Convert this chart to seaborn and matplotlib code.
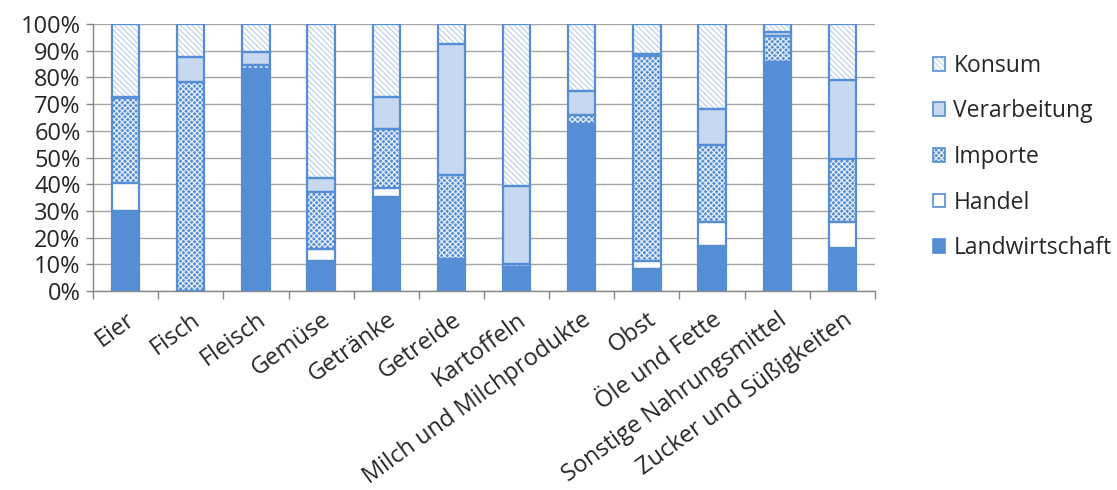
import matplotlib
matplotlib.use("Agg")
import matplotlib.pyplot as plt
from matplotlib.patches import Patch
from matplotlib.legend_handler import HandlerTuple
from matplotlib.ticker import MultipleLocator, FixedLocator, PercentFormatter
import numpy as np
import pandas as pd
import seaborn as sns

# Food categories and the share (%) of each stage in the value chain
categories = ["Eier", "Fisch", "Fleisch", "Gemüse", "Getränke", "Getreide",
              "Kartoffeln", "Milch und Milchprodukte", "Obst", "Öle und Fette",
              "Sonstige Nahrungsmittel", "Zucker und Süßigkeiten"]
landwirtschaft = [30.0, 0.0, 83.0, 11.4, 35.3, 11.9, 8.9, 62.4, 8.2, 16.7, 85.6, 16.0]
handel = [10.3, 0.0, 0.0, 4.2, 3.4, 0.0, 0.0, 0.0, 3.2, 9.3, 0.0, 9.7]
importe = [32.1, 78.4, 1.6, 21.6, 22.0, 31.5, 1.1, 3.5, 76.7, 28.7, 10.0, 23.7]
verarbeitung = [0.4, 9.1, 4.8, 5.0, 12.1, 49.0, 29.5, 9.0, 0.7, 13.5, 1.5, 29.5]
konsum = [27.2, 12.5, 10.6, 57.8, 27.2, 7.6, 60.5, 25.1, 11.2, 31.8, 2.9, 21.1]

series_names = ["Landwirtschaft", "Handel", "Importe", "Verarbeitung", "Konsum"]
series_values = [landwirtschaft, handel, importe, verarbeitung, konsum]

BLUE = "#558ED5"
LIGHT = "#C6D9F1"
HATCH_LIGHT = "#BFD3EE"
styles = {
    "Landwirtschaft": dict(face=BLUE, hatch=None, hcol=BLUE),
    "Handel": dict(face="white", hatch=None, hcol="white"),
    "Importe": dict(face=BLUE, hatch="xxxxxx", hcol="#E4ECF8"),
    "Verarbeitung": dict(face=LIGHT, hatch=None, hcol=LIGHT),
    "Konsum": dict(face="white", hatch="\\\\\\\\\\\\", hcol=HATCH_LIGHT),
}

FS = 17
sns.set_theme(style="white")
plt.rcParams["font.family"] = ["Open Sans", "DejaVu Sans"]
plt.rcParams["hatch.linewidth"] = 0.9

fig = plt.figure(figsize=(11.17, 4.9), dpi=100)
ax = fig.add_axes([0.0833, 0.406, 0.700, 0.545])

df = pd.DataFrame({name: vals for name, vals in zip(series_names, series_values)})
df["Kategorie"] = categories
df = df.set_index("Kategorie")
tops = df[series_names].cumsum(axis=1)
bottoms = tops - df[series_names]

bar_width = 0.42
for name in series_names:
    st = styles[name]
    seg = pd.DataFrame({"Kategorie": categories,
                        "h": df[name].values,
                        "b": bottoms[name].values})
    # fill + pattern layer
    sns.barplot(data=seg, x="Kategorie", y="h", ax=ax, width=bar_width,
                bottom=seg["b"].values, color=st["face"], saturation=1,
                facecolor=st["face"], edgecolor=st["hcol"], hatch=st["hatch"],
                linewidth=0, order=categories, errorbar=None, zorder=3)
    # outline layer
    sns.barplot(data=seg, x="Kategorie", y="h", ax=ax, width=bar_width,
                bottom=seg["b"].values, color=BLUE, saturation=1,
                facecolor="none", edgecolor=BLUE, linewidth=1.6,
                order=categories, errorbar=None, zorder=4)

ax.set_xlim(-0.5, len(categories) - 0.5)
ax.set_ylim(0, 100)
ax.yaxis.set_major_locator(MultipleLocator(10))
ax.yaxis.set_major_formatter(PercentFormatter(decimals=0))
ax.grid(axis="y", color="#A6A6A6", linewidth=1.0, zorder=0)
ax.set_axisbelow(True)
ax.set_xlabel("")
ax.set_ylabel("")

for side in ["top", "right"]:
    ax.spines[side].set_visible(False)
for side in ["left", "bottom"]:
    ax.spines[side].set_color("#868686")
    ax.spines[side].set_linewidth(1.0)

ax.tick_params(axis="y", which="major", left=True, length=5, width=1,
               color="#868686", labelsize=FS, labelcolor="#262626", pad=4)
ax.xaxis.set_minor_locator(FixedLocator(np.arange(-0.5, len(categories), 1.0)))
ax.tick_params(axis="x", which="minor", bottom=True, length=6, width=1, color="#868686")
ax.tick_params(axis="x", which="major", bottom=False, length=0, labelsize=FS,
               labelcolor="#262626", pad=12)
plt.setp(ax.get_xticklabels(), rotation=36, ha="right", rotation_mode="anchor")

# legend: patterned fill with a blue outline drawn on top
handles = []
labels = []
for name in series_names[::-1]:
    st = styles[name]
    fill = Patch(facecolor=st["face"], edgecolor=st["hcol"], hatch=st["hatch"],
                 linewidth=0)
    outline = Patch(facecolor="none", edgecolor=BLUE, linewidth=1.2)
    handles.append((fill, outline))
    labels.append(name)
leg = fig.legend(handles=handles, labels=labels,
                 handler_map={tuple: HandlerTuple(ndivide=1)},
                 loc="upper left", bbox_to_anchor=(0.835, 0.890),
                 borderaxespad=0, borderpad=0,
                 frameon=False, fontsize=16.5, handlelength=0.55, handleheight=0.55,
                 handletextpad=0.35, labelspacing=0.94, labelcolor="#262626")

fig.savefig("out.png", dpi=100)
